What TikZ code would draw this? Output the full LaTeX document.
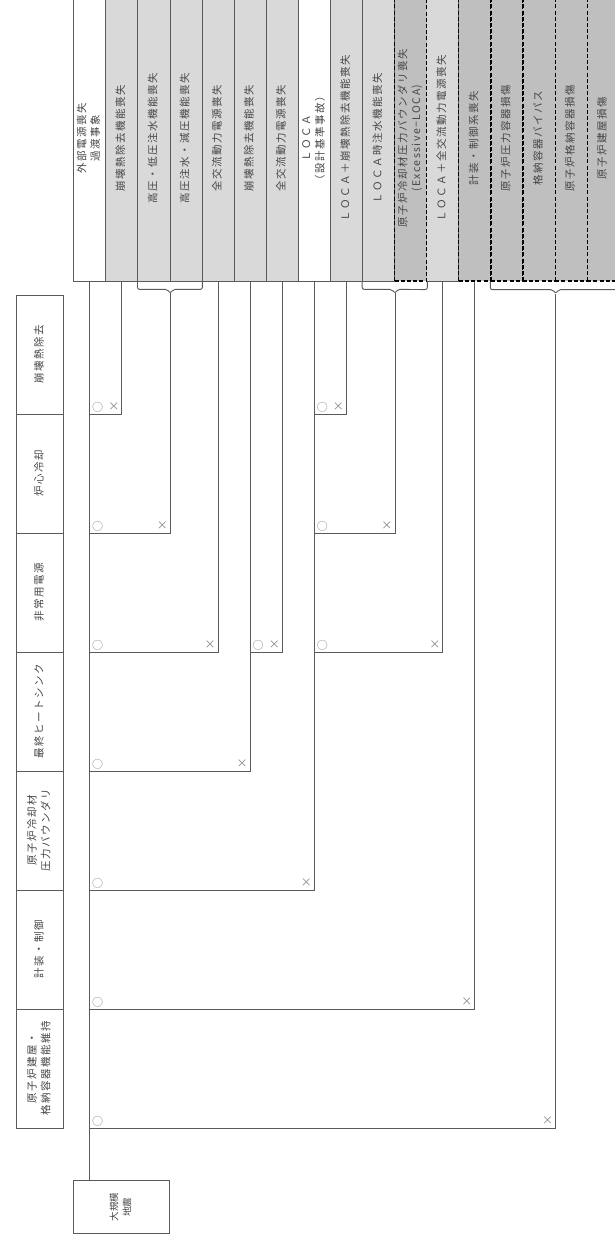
\documentclass[tikz,border=0pt]{standalone}
\usepackage{fontspec}
\usepackage{graphicx}
\newfontfamily\jpfont[LetterSpace=14]{Noto Sans CJK JP}
\newfontfamily\jpplain{Noto Sans CJK JP}
\usepackage{tikz}
\definecolor{inkgray}{RGB}{70,70,70}
\definecolor{rulegray}{RGB}{90,90,90}
\definecolor{lightfill}{RGB}{217,217,217}
\definecolor{darkfill}{RGB}{191,191,191}
\definecolor{markgray}{RGB}{130,130,130}

\begin{document}
\begin{tikzpicture}[x=1pt,y=-1pt,
  strip/.style={draw=rulegray,line width=0.7pt,minimum width=32.1pt,minimum height=286pt,
    inner sep=0pt,text=inkgray,font={\jpfont\fontsize{10.5}{13.7}\selectfont}},
  dashstrip/.style={strip,draw=black,fill=darkfill,dash pattern=on 4pt off 2.2pt,line width=1.2pt},
  headbox/.style={draw=rulegray,line width=0.8pt,minimum width=46.6pt,minimum height=119pt,
    inner sep=0pt,text=inkgray,font={\jpfont\fontsize{10.5}{13.7}\selectfont}},
  treeline/.style={draw=rulegray,line width=0.9pt},
  okmk/.style={text=markgray,inner sep=0pt,font={\jpplain\fontsize{11}{11}\selectfont}}]
  \useasboundingbox (0,0) rectangle (614,1240);
  % end states across the top
  \foreach \i/\col/\txt in {1/white/{外部電源喪失\\過渡事象},2/lightfill/{崩壊熱除去機能喪失},
      3/lightfill/{高圧・低圧注水機能喪失},4/lightfill/{高圧注水・減圧機能喪失},
      5/lightfill/{全交流動力電源喪失},6/lightfill/{崩壊熱除去機能喪失},
      7/lightfill/{全交流動力電源喪失},8/white/{ＬＯＣＡ\\（設計基準事故）},
      9/lightfill/{ＬＯＣＡ＋崩壊熱除去機能喪失},10/lightfill/{ＬＯＣＡ時注水機能喪失},
      12/lightfill/{ＬＯＣＡ＋全交流動力電源喪失}}
    \node[strip,fill=\col] (s\i) at ({73.6+(\i-0.5)*32.1},138)
      {\rotatebox{90}{\begin{tabular}{@{}c@{}}\txt\end{tabular}}};
  \foreach \i/\txt in {11/{原子炉冷却材圧力バウンダリ喪失\\(Excessive−LOCA)},13/{計装・制御系喪失},
      14/{原子炉圧力容器損傷},15/{格納容器バイパス},16/{原子炉格納容器損傷},17/{原子炉建屋損傷}}
    \node[dashstrip] (s\i) at ({73.6+(\i-0.5)*32.1},138)
      {\rotatebox{90}{\begin{tabular}{@{}c@{}}\txt\end{tabular}}};
  % headings on the left
  \foreach \k/\txt in {1/{崩壊熱除去},2/{炉心冷却},3/{非常用電源},4/{最終ヒートシンク},
      5/{原子炉冷却材\\圧力バウンダリ},6/{計装・制御},7/{原子炉建屋・\\格納容器機能維持}}
    \node[headbox] (h\k) at (40.1,{295+(\k-0.5)*119})
      {\rotatebox{90}{\begin{tabular}{@{}c@{}}\txt\end{tabular}}};
  \node[headbox,minimum width=95.9pt,minimum height=52.6pt,font={\jpplain\fontsize{9.5}{13}\selectfont}]
    (ie) at (121.6,1207) {\rotatebox{90}{\begin{tabular}{@{}c@{}}大規模\\地震\end{tabular}}};
  % brackets under grouped end states
  \foreach \a/\m/\b in {3/3/4,10/10/11,14/15/17} {
    \coordinate (k\a\b) at ([yshift=-12pt]s\m.south east);
    \draw[treeline,rounded corners=2pt] (s\a.south west) -- ([yshift=-8pt]s\a.south west)
      -- ([shift={(-3pt,-8pt)}]s\m.south east) -- (k\a\b) -- ([shift={(3pt,-8pt)}]s\m.south east)
      -- ([yshift=-8pt]s\b.south east) -- (s\b.south east);
  }
  % trunk and branches
  \draw[treeline] (s1) -- (s1 |- ie.north);
  \foreach \from/\lev/\to [count=\n] in {s1/1/s2,s1/2/k34,s1/3/s5,s1/4/s6,s6/3/s7,s1/5/s8,
      s8/1/s9,s8/2/k1011,s8/3/s12,s1/6/s13,s1/7/k1417} {
    \coordinate (j\n) at (\from |- h\lev.south);
    \coordinate (e\n) at (\to |- h\lev.south);
    \draw[treeline] (j\n) -| (\to);
    \node[okmk] (o\n) at ([shift={(8pt,7.5pt)}]j\n) {○};
    \node[okmk] (x\n) at ([shift={(-8pt,7.5pt)}]e\n) {×};
  }
\end{tikzpicture}
\end{document}
